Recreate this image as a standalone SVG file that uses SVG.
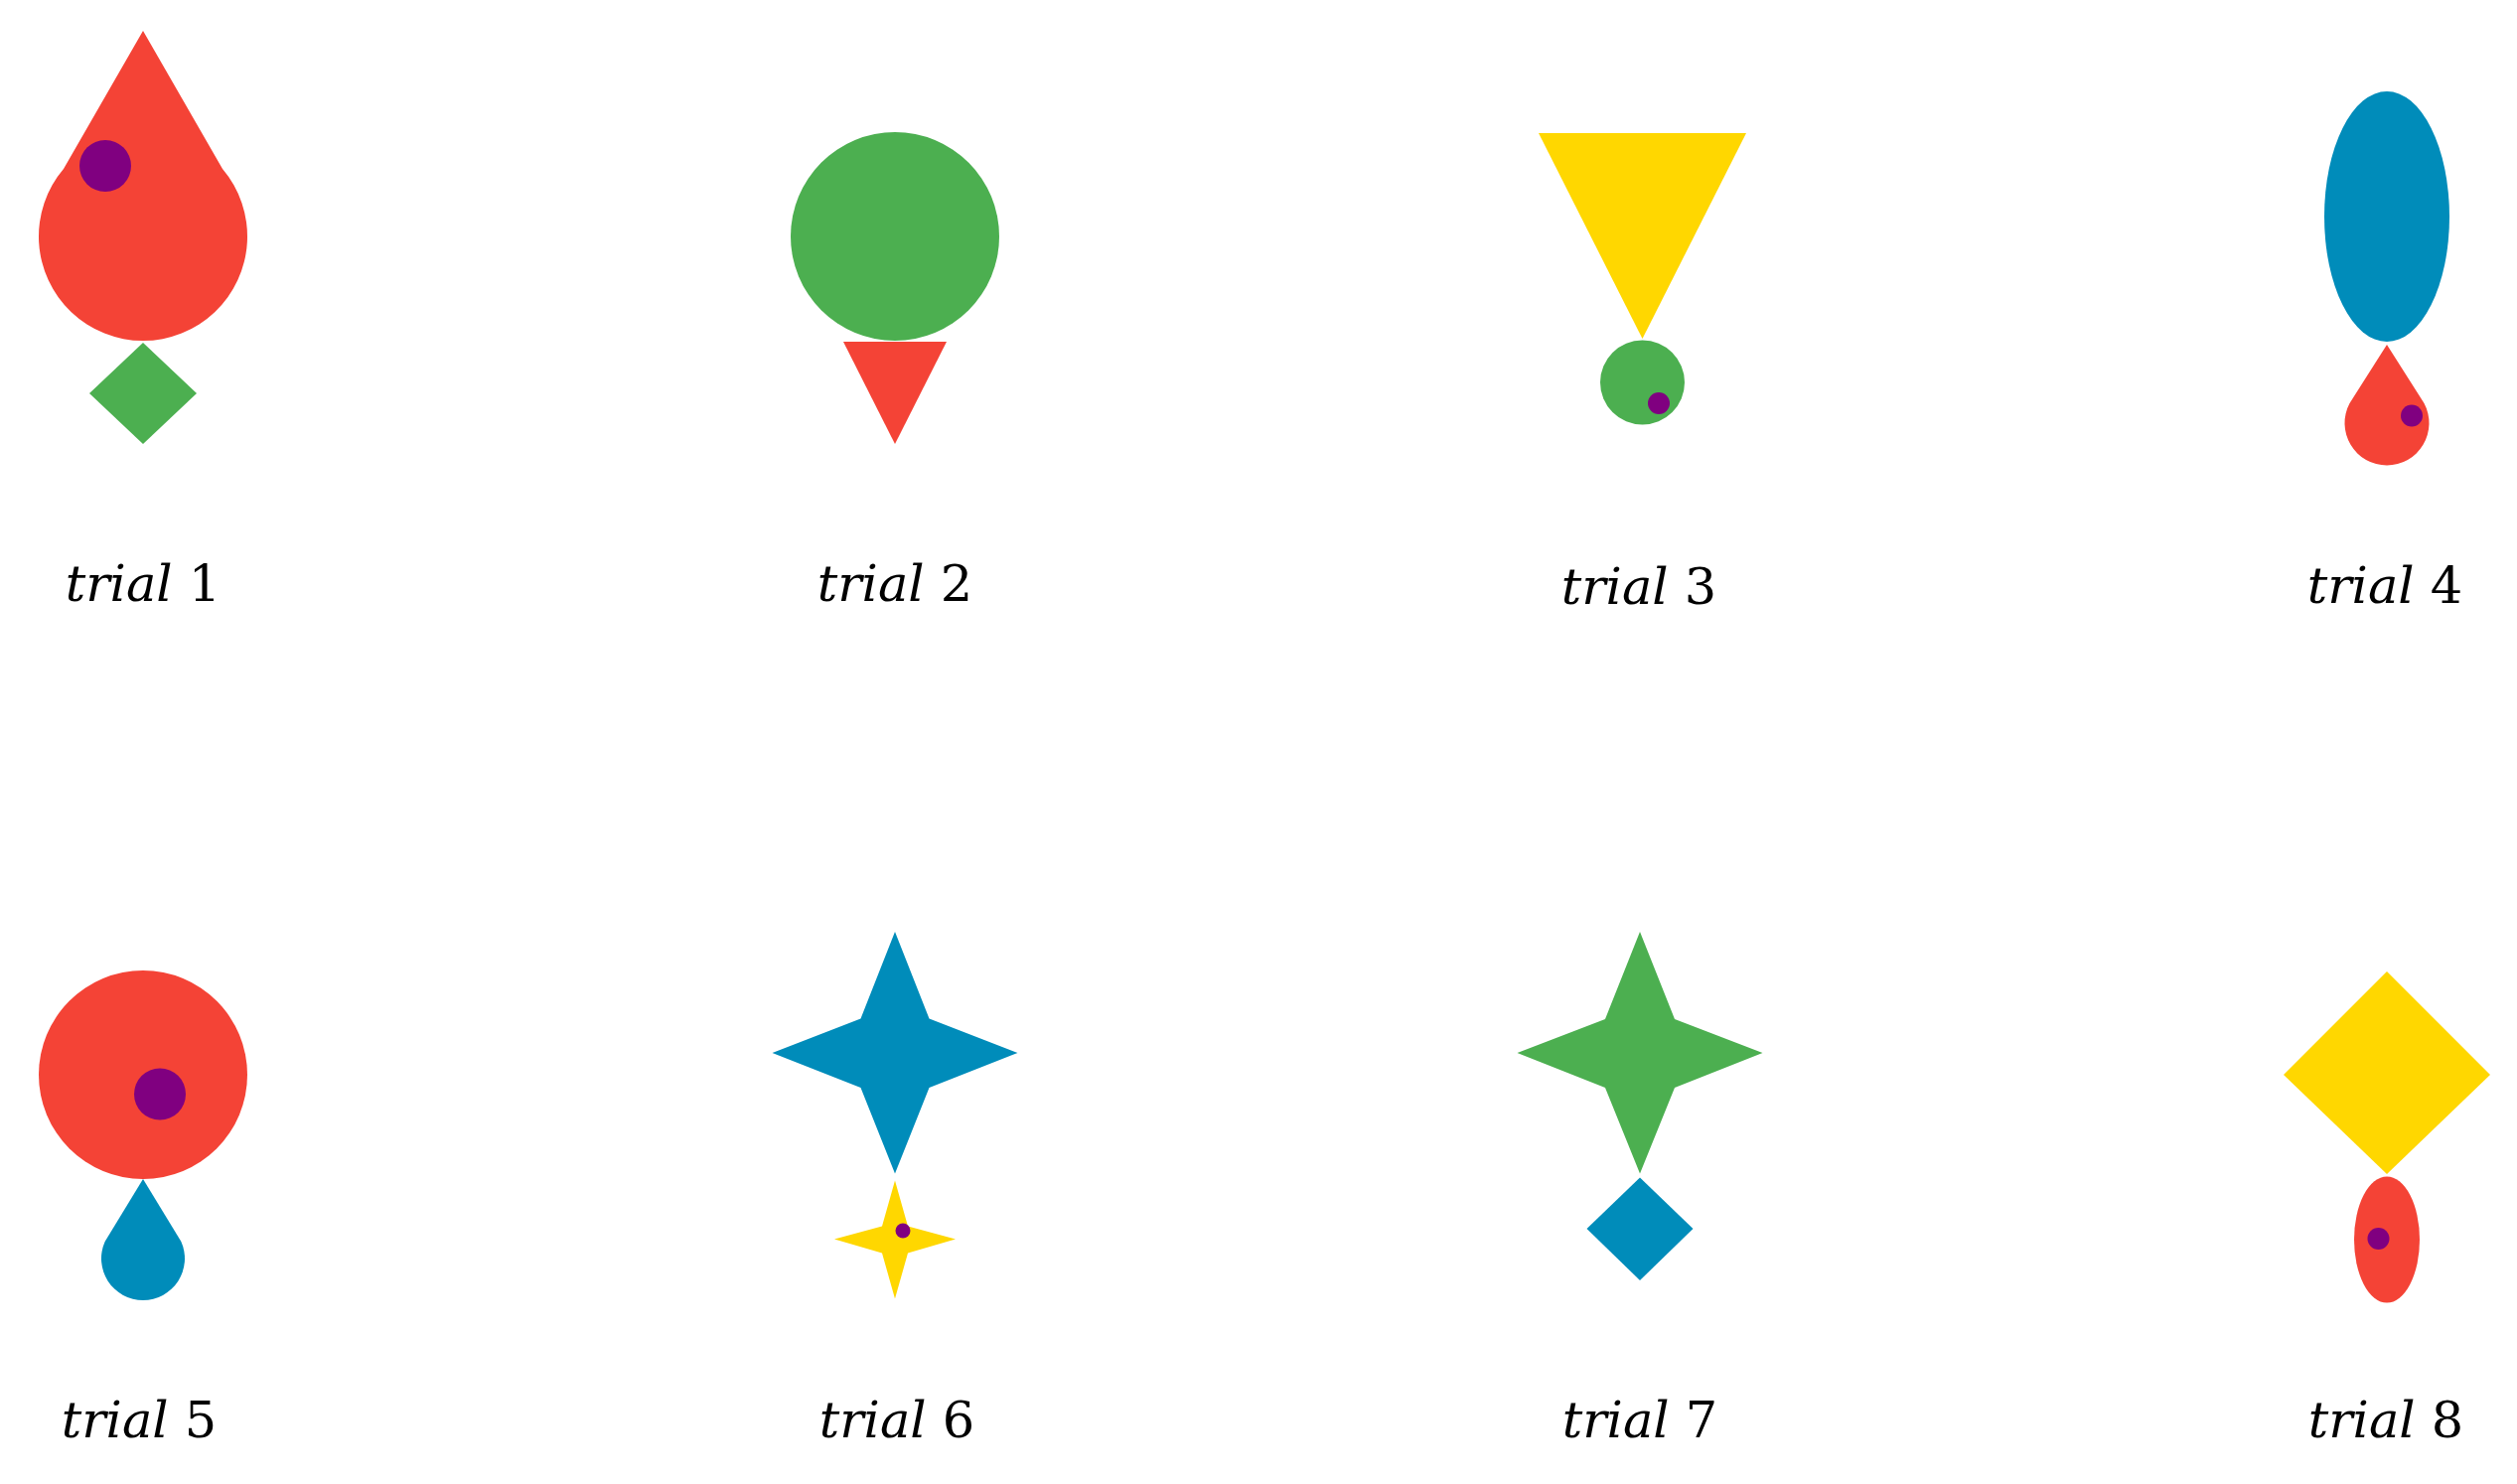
<svg xmlns="http://www.w3.org/2000/svg" width="2534" height="1494" viewBox="0 0 2534 1494">
<style>
.red{fill:#F44336}
.green{fill:#4CAF50}
.yellow{fill:#FFD700}
.blue{fill:#008CBA}
.purple{fill:#800080}
.lbl{font-family:"DejaVu Serif","Liberation Serif",serif;font-size:51px;fill:#000;text-anchor:middle}
.it{font-style:italic}
</style>
<rect x="0" y="0" width="2534" height="1494" fill="#FFFFFF"/>

<g id="trial1">
<path class="red" d="M144,31 L64,170 A105,105 0 1 0 224,170 Z"/>
<circle class="purple" cx="106" cy="167" r="26"/>
<polygon class="green" points="144,345 198,396 144,447 90,396"/>
<text class="lbl" x="144" y="605"><tspan class="it">trial</tspan> 1</text>
</g>

<g id="trial2">
<circle class="green" cx="901" cy="238" r="105"/>
<polygon class="red" points="849,344 953,344 901,447"/>
<text class="lbl" x="901" y="605"><tspan class="it">trial</tspan> 2</text>
</g>

<g id="trial3">
<polygon class="yellow" points="1549,134 1758,134 1653.5,341"/>
<circle class="green" cx="1653.5" cy="385" r="42.5"/>
<circle class="purple" cx="1670" cy="406" r="11"/>
<text class="lbl" x="1650" y="608"><tspan class="it">trial</tspan> 3</text>
</g>

<g id="trial4">
<ellipse class="blue" cx="2403" cy="218" rx="63" ry="126"/>
<path class="red" d="M2403,347 L2365.5,406 A42.5,42.5 0 1 0 2440.5,406 Z"/>
<circle class="purple" cx="2428" cy="418.5" r="11"/>
<text class="lbl" x="2401" y="607"><tspan class="it">trial</tspan> 4</text>
</g>

<g id="trial5">
<circle class="red" cx="144" cy="1082" r="105"/>
<circle class="purple" cx="161" cy="1101.5" r="26"/>
<path class="blue" d="M144,1187 L105.6,1250 A42,42 0 1 0 182.4,1250 Z"/>
<text class="lbl" x="140" y="1447"><tspan class="it">trial</tspan> 5</text>
</g>

<g id="trial6">
<polygon class="blue" points="901,938 935.5,1025.5 1024.5,1060 935.5,1095 901,1181.5 866.5,1095 777.5,1060 866.5,1025.5"/>
<polygon class="yellow" points="901,1188.5 914,1234.5 962,1247.5 914,1261.5 901,1307.5 888,1261.5 840,1247.5 888,1234.5"/>
<circle class="purple" cx="909" cy="1239" r="7.5"/>
<text class="lbl" x="903" y="1447"><tspan class="it">trial</tspan> 6</text>
</g>

<g id="trial7">
<polygon class="green" points="1651,938 1686,1026 1774.5,1060 1686,1095 1651,1181.5 1616,1095 1527.5,1060 1616,1026"/>
<polygon class="blue" points="1651,1185.5 1704.5,1237 1651,1289 1597.5,1237"/>
<text class="lbl" x="1651" y="1447"><tspan class="it">trial</tspan> 7</text>
</g>

<g id="trial8">
<polygon class="yellow" points="2403,978 2507,1082 2403,1182 2299,1082"/>
<ellipse class="red" cx="2403" cy="1248" rx="33" ry="63.5"/>
<circle class="purple" cx="2394.5" cy="1247" r="11"/>
<text class="lbl" x="2402" y="1447"><tspan class="it">trial</tspan> 8</text>
</g>
</svg>
